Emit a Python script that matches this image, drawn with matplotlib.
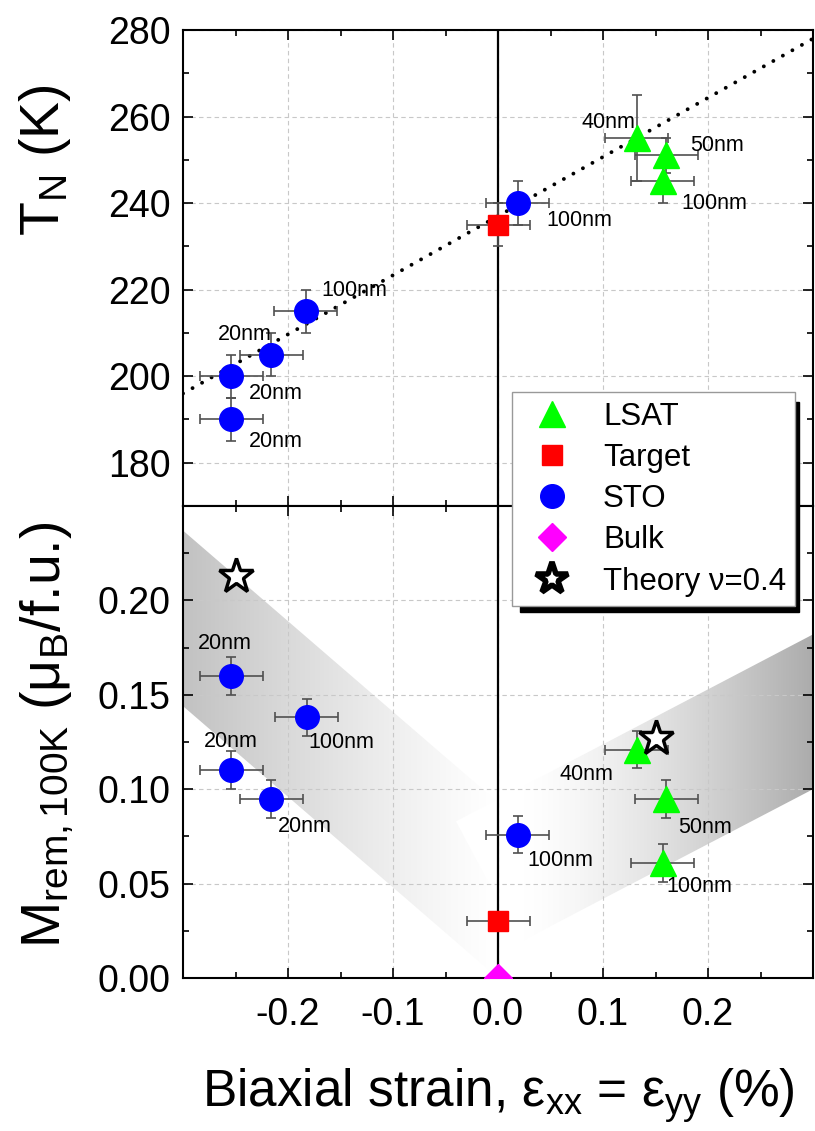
import numpy as np
import matplotlib.pyplot as plt
from matplotlib.patches import Polygon, Rectangle
from matplotlib.lines import Line2D
from matplotlib.ticker import MultipleLocator
from matplotlib.colors import LinearSegmentedColormap

plt.rcParams['font.family'] = ['Liberation Sans', 'DejaVu Sans']
plt.rcParams['mathtext.fontset'] = 'custom'
plt.rcParams['mathtext.rm'] = 'Liberation Sans'
plt.rcParams['mathtext.it'] = 'Liberation Sans:italic'
plt.rcParams['mathtext.default'] = 'regular'

# ---- top panel: Neel temperature vs strain ----
sto_x = [-0.254, -0.254, -0.216, -0.183, 0.019]
sto_tn = [200, 190, 205, 215, 240]
sto_tn_err = [5, 5, 5, 5, 5]
sto_x_err = [0.03, 0.03, 0.03, 0.03, 0.03]

lsat_x = [0.132, 0.160, 0.157]
lsat_tn = [255, 251, 245]
lsat_tn_err = [10, 4, 5]
lsat_x_err = [0.03, 0.03, 0.03]

target_x = [0.0]
target_tn = [235]
target_tn_err = [5]
target_x_err = [0.03]

fit_x = [-0.3, 0.3]
fit_tn = [196, 278]

tn_labels = ['40nm', '50nm', '100nm', '100nm', '100nm', '20nm', '20nm', '20nm']
tn_label_x = [0.080, 0.183, 0.175, 0.046, -0.168, -0.267, -0.237, -0.237]
tn_label_y = [258.7, 253.3, 240, 236, 219.8, 209.6, 196, 184.8]

# ---- bottom panel: remanent magnetisation at 100 K ----
sto_m = [0.160, 0.138, 0.110, 0.095, 0.076]
sto_x_m = [-0.254, -0.182, -0.254, -0.216, 0.019]
sto_m_err = [0.01, 0.01, 0.01, 0.01, 0.01]

lsat_m = [0.121, 0.095, 0.061]
lsat_m_err = [0.01, 0.01, 0.01]

target_m = [0.030]
bulk_x = [0.0]
bulk_m = [0.0]

theory_x = [-0.250, 0.150]
theory_m = [0.213, 0.127]

m_labels = ['20nm', '20nm', '100nm', '20nm', '100nm', '40nm', '50nm', '100nm']
m_label_x = [-0.286, -0.280, -0.181, -0.210, 0.028, 0.059, 0.172, 0.160]
m_label_y = [0.177, 0.1255, 0.125, 0.080, 0.0625, 0.108, 0.0795, 0.0484]

x_ticks = [-0.2, -0.1, 0.0, 0.1, 0.2]

# shaded guide bands
left_band_x = [-0.3, -0.3, 0.0, 0.0]
left_band_y = [0.237, 0.144, 0.0, 0.093]
right_band_x = [0.3, 0.3, 0.021, -0.04]
right_band_y = [0.182, 0.100, 0.019, 0.083]

green, red, blue, magenta = '#00ff00', '#ff0000', '#0000ff', '#ff00ff'
ebar = dict(fmt='none', ecolor='#505050', elinewidth=1.2, capsize=3.5, capthick=1.2, zorder=3)

fig = plt.figure(figsize=(8.15, 11.31), dpi=100)
W, H = 815, 1131
ax1 = fig.add_axes([183 / W, 1 - 506 / H, 630 / W, 476 / H])
ax2 = fig.add_axes([183 / W, 1 - 978 / H, 630 / W, 472 / H])

for ax in (ax1, ax2):
    ax.set_xlim(-0.3, 0.3)
    ax.set_xticks(x_ticks)
    ax.xaxis.set_minor_locator(MultipleLocator(0.05))
    ax.tick_params(which='both', direction='in', top=True, right=True, width=1.2, labelsize=27)
    ax.tick_params(which='major', length=7)
    ax.tick_params(which='minor', length=4)
    ax.tick_params(axis='y', pad=9)
    ax.tick_params(axis='x', pad=14)
    ax.grid(True, which='major', color='#c8c8c8', ls=(0, (4, 3)), lw=0.8)
    ax.set_axisbelow(True)
    for s in ax.spines.values():
        s.set_linewidth(1.5)
    ax.axvline(0, color='k', lw=1.6, zorder=2)

ax1.tick_params(labelbottom=False)
ax1.set_ylim(170, 280)
ax1.set_yticks([180, 200, 220, 240, 260, 280])
ax1.yaxis.set_minor_locator(MultipleLocator(10))

ax2.set_ylim(0, 0.25)
ax2.set_yticks([0, 0.05, 0.10, 0.15, 0.20])
ax2.yaxis.set_minor_locator(MultipleLocator(0.025))
ax2.yaxis.set_major_formatter(plt.FormatStrFormatter('%.2f'))
ax2.xaxis.set_major_formatter(plt.FormatStrFormatter('%.1f'))


def band(ax, xs, ys, x_dark, x_light, color, power):
    poly = Polygon(np.column_stack([xs, ys]), closed=True, fc='none', ec='none')
    ax.add_patch(poly)
    xg = np.linspace(-0.3, 0.3, 400)
    t = np.clip((xg - x_light) / (x_dark - x_light), 0, 1) ** power
    cmap = LinearSegmentedColormap.from_list('b', ['#ffffff', color])
    im = ax.imshow(t[None, :], extent=(-0.3, 0.3, 0, 0.25), aspect='auto', cmap=cmap,
                   vmin=0, vmax=1, origin='lower', zorder=0, interpolation='bilinear')
    im.set_clip_path(poly)


band(ax2, left_band_x, left_band_y, -0.3, 0.0, '#c2c2c2', 1.2)
band(ax2, right_band_x, right_band_y, 0.3, 0.02, '#acacac', 1.4)
ax2.set_xlim(-0.3, 0.3)
ax2.set_ylim(0, 0.25)

# top panel marks
ax1.plot(fit_x, fit_tn, color='k', lw=2.8, ls=(0, (0.01, 2.8)), dash_capstyle='round', zorder=2)
ax1.errorbar(sto_x, sto_tn, xerr=sto_x_err, yerr=sto_tn_err, **ebar)
ax1.errorbar(lsat_x, lsat_tn, xerr=lsat_x_err, yerr=lsat_tn_err, **ebar)
ax1.errorbar(target_x, target_tn, xerr=target_x_err, yerr=target_tn_err, **ebar)
ax1.plot(sto_x, sto_tn, 'o', ms=17, color=blue, ls='none', zorder=4)
ax1.plot(lsat_x, lsat_tn, '^', ms=19, color=green, ls='none', zorder=4)
ax1.plot(target_x, target_tn, 's', ms=15, color=red, ls='none', zorder=4)
for s, x, y in zip(tn_labels, tn_label_x, tn_label_y):
    ax1.text(x, y, s, fontsize=15.5, ha='left', va='center', zorder=5)

# bottom panel marks
ax2.errorbar(sto_x_m, sto_m, xerr=sto_x_err, yerr=sto_m_err, **ebar)
ax2.errorbar(lsat_x, lsat_m, xerr=lsat_x_err, yerr=lsat_m_err, **ebar)
ax2.errorbar(target_x, target_m, xerr=target_x_err, **ebar)
ax2.plot(sto_x_m, sto_m, 'o', ms=17, color=blue, ls='none', zorder=4)
ax2.plot(lsat_x, lsat_m, '^', ms=19, color=green, ls='none', zorder=4)
ax2.plot(target_x, target_m, 's', ms=15, color=red, ls='none', zorder=4)
ax2.plot(bulk_x, bulk_m, 'D', ms=14, color=magenta, ls='none', zorder=4)
ax2.plot(theory_x, theory_m, '*', ms=26, mfc='white', mec='black', mew=2.5, ls='none', zorder=5)
for s, x, y in zip(m_labels, m_label_x, m_label_y):
    ax2.text(x, y, s, fontsize=15.5, ha='left', va='center', zorder=5)

# axis titles
fig.text(45 / W, 1 - 160 / H, 'T$_N$ (K)', rotation=90, fontsize=40, ha='center', va='center')
fig.text(47 / W, 1 - 735 / H, 'M$_{rem,100K}$ (μ$_B$/f.u.)', rotation=90, fontsize=40,
         ha='center', va='center')
fig.text(498 / W, 1 - 1107 / H, 'Biaxial strain, ε$_{xx}$ = ε$_{yy}$ (%)', fontsize=37,
         ha='center', va='baseline')

# legend with a solid shadow
handles = [
    Line2D([], [], marker='^', ls='none', color=green, ms=19),
    Line2D([], [], marker='s', ls='none', color=red, ms=15),
    Line2D([], [], marker='o', ls='none', color=blue, ms=17),
    Line2D([], [], marker='D', ls='none', color=magenta, ms=14),
    Line2D([], [], marker='*', ls='none', mfc='white', mec='black', mew=4, ms=24),
]
labels = ['LSAT', 'Target', 'STO', 'Bulk', 'Theory ν=0.4']
leg = fig.legend(handles, labels, loc='upper left', bbox_to_anchor=(511.7 / W, 1 - 392.3 / H),
                 bbox_transform=fig.transFigure, fontsize=22.5, frameon=True, fancybox=False,
                 edgecolor='#999999', framealpha=1, borderpad=0.3, labelspacing=0.36,
                 handlelength=2.0, handletextpad=0.62, borderaxespad=0)
leg.set_zorder(5)
leg.get_frame().set_linewidth(1.0)

fig.canvas.draw()
bb = leg.get_window_extent()
fig.add_artist(Rectangle(((bb.x0 + 8) / W, (bb.y0 - 6) / H), (bb.width - 4) / W, (bb.height - 4) / H,
                         transform=fig.transFigure, color='black', zorder=4))

fig.savefig('out.png', dpi=100)
